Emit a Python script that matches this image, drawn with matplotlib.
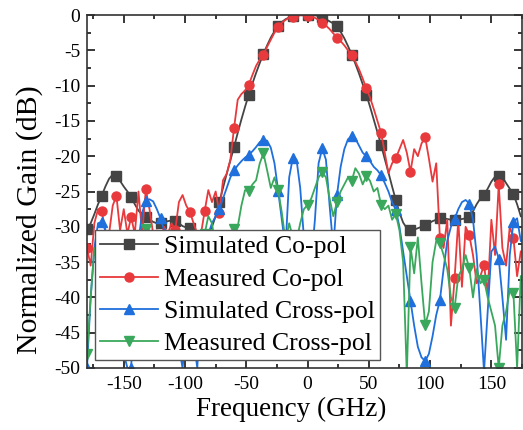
import numpy as np
import matplotlib
matplotlib.use("Agg")
import matplotlib.pyplot as plt
from matplotlib.ticker import MultipleLocator

plt.rcParams['font.family'] = ['Liberation Serif', 'DejaVu Serif']
plt.rcParams['axes.unicode_minus'] = False

# angle grid (x values)
angles = list(range(-180, 175, 3))

sim_co = [
    -30.3, -29.5, -28.2, -26.8, -25.6, -24.3, -23.2, -22.6, -22.8, -23.5,
    -24.3, -25.0, -25.8, -26.8, -27.7, -28.3, -28.6, -29.0, -29.3, -29.5,
    -29.5, -29.4, -29.2, -29.1, -29.2, -29.5, -29.9, -30.1, -30.2, -30.6,
    -31.2, -31.6, -31.3, -31.0, -30.0, -28.5, -26.5, -24.5, -22.5, -20.6,
    -18.7, -16.7, -14.8, -13.0, -11.3, -9.7, -8.2, -6.8, -5.5, -4.3,
    -3.2, -2.3, -1.6, -1.0, -0.6, -0.35, -0.2, -0.1, -0.05, 0.0,
    0.0, 0.0, -0.05, -0.15, -0.3, -0.6, -0.9, -1.2, -1.6, -2.4,
    -3.3, -4.4, -5.6, -6.9, -8.3, -9.8, -11.3, -13.0, -14.8, -16.6,
    -18.4, -20.4, -22.3, -24.3, -26.2, -28.0, -29.4, -30.2, -30.4, -30.4,
    -30.2, -30.0, -29.8, -29.5, -29.2, -29.0, -28.8, -28.8, -28.9, -29.0,
    -29.0, -29.0, -28.9, -28.8, -28.6, -27.8, -26.8, -26.0, -25.5, -24.6,
    -23.6, -22.9, -22.8, -23.0, -23.8, -24.6, -25.4, -26.8, -28.5,
]

meas_co = [
    -33.0, -35.5, -29.5, -27.5, -27.8, -30.5, -31.0, -27.0, -25.6, -30.5,
    -27.5, -31.0, -28.6, -31.0, -25.0, -31.0, -24.7, -27.5, -31.0, -30.5,
    -31.5, -30.0, -31.0, -29.5, -30.5, -26.5, -25.5, -27.0, -27.9, -29.5,
    -31.0, -31.0, -27.8, -24.8, -26.5, -25.0, -28.0, -23.4, -22.5, -20.5,
    -16.0, -12.0, -11.2, -10.7, -9.9, -8.5, -7.2, -6.3, -5.6, -4.5,
    -3.5, -2.5, -1.7, -1.1, -0.7, -0.4, -0.3, -0.1, 0.0, -0.1,
    -0.1, -0.2, -0.4, -0.7, -1.1, -1.5, -2.0, -2.6, -3.2, -3.7,
    -4.3, -5.0, -5.7, -6.6, -7.7, -9.0, -10.4, -11.7, -13.3, -15.0,
    -16.7, -19.5, -22.4, -21.0, -20.3, -19.0, -17.7, -19.5, -22.2, -19.0,
    -20.0, -18.2, -17.3, -20.3, -23.6, -21.0, -31.6, -33.0, -29.0, -44.0,
    -37.3, -29.0, -38.5, -30.0, -31.2, -34.0, -38.0, -37.0, -35.4, -39.5,
    -29.0, -34.0, -24.0, -33.0, -35.5, -30.0, -31.6, -37.0, -33.5,
]

sim_cross = [
    -50.0, -40.0, -33.0, -29.5, -29.3, -30.5, -33.0, -37.0, -41.0, -45.0,
    -48.0, -50.0, -50.0, -40.0, -32.0, -28.0, -26.4, -26.1, -26.4, -27.5,
    -28.8, -30.5, -33.0, -37.0, -42.0, -47.0, -50.0, -44.0, -42.0, -46.0,
    -50.0, -40.0, -34.0, -31.0, -29.5, -28.5, -27.5, -26.0, -24.5, -23.0,
    -22.0, -21.3, -20.7, -20.2, -19.8, -19.3, -18.7, -18.0, -17.7, -17.8,
    -18.8, -21.0, -24.9, -29.0, -33.0, -23.0, -20.2, -20.5, -24.5, -31.5,
    -40.0, -35.0, -29.0, -21.0, -18.9, -20.5, -27.0, -33.0, -25.5, -21.5,
    -19.0, -17.6, -17.2, -17.5, -18.5, -19.5, -20.0, -20.7, -21.5, -22.0,
    -22.7, -23.8, -25.0, -26.5, -27.6, -30.0, -33.5, -37.0, -40.5, -44.0,
    -47.0, -48.5, -49.0, -48.0, -45.5, -42.5, -40.4, -36.0, -32.0, -30.0,
    -28.9, -27.5, -26.5, -26.2, -26.7, -29.0, -34.0, -42.0, -50.5, -42.0,
    -33.5, -32.8, -34.5, -40.0, -46.0, -34.0, -29.3, -28.8, -32.0,
]

meas_cross = [
    -48.0, -40.0, -33.0, -36.0, -38.0, -42.0, -36.0, -40.0, -38.0, -42.0,
    -37.0, -40.0, -35.0, -33.0, -31.0, -30.8, -30.3, -33.0, -37.0, -35.0,
    -38.0, -34.0, -40.0, -36.0, -42.0, -38.0, -44.0, -40.0, -36.0, -41.0,
    -35.0, -33.0, -31.0, -28.5, -29.5, -33.0, -32.0, -35.0, -33.0, -31.5,
    -30.3, -30.0, -27.0, -24.8, -24.9, -24.0, -23.4, -21.0, -19.6, -22.0,
    -24.5, -23.0, -24.8, -28.0, -32.0, -29.5, -31.5, -32.0, -29.5, -27.5,
    -26.9, -26.0, -24.5, -23.0, -22.3, -23.0, -26.0, -28.5, -26.5, -25.0,
    -24.0, -23.0, -23.5, -21.7, -22.5, -24.0, -22.8, -23.5, -25.0, -24.5,
    -26.9, -27.5, -27.0, -29.0, -28.2, -30.5, -35.0, -51.0, -32.8, -36.6,
    -31.5, -38.0, -43.9, -42.0, -35.0, -32.0, -32.3, -34.0, -36.0, -40.0,
    -41.5, -37.0, -36.0, -34.0, -35.9, -40.0, -36.0, -38.0, -37.5, -40.0,
    -42.0, -44.0, -50.0, -44.0, -42.0, -39.0, -39.4, -50.0, -37.0,
]

labels = ['Simulated Co-pol', 'Measured Co-pol', 'Simulated Cross-pol', 'Measured Cross-pol']
colors = ['#444444', '#e8393c', '#1f6fdc', '#3aa85c']
markers = ['s', 'o', '^', 'v']
series = [sim_co, meas_co, sim_cross, meas_cross]

fig = plt.figure(figsize=(5.23, 4.30), dpi=100)
ax = fig.add_axes([87/523, 1-368/430, 435/523, 353/430])

for y, lab, c, m in zip(series, labels, colors, markers):
    ax.plot(angles, y, color=c, marker=m, markevery=4, markersize=6.5,
            linewidth=1.3, label=lab)

ax.set_xlim(-180, 175)
ax.set_ylim(-50, 0)
ax.xaxis.set_major_locator(MultipleLocator(50))
ax.xaxis.set_minor_locator(MultipleLocator(25))
ax.yaxis.set_major_locator(MultipleLocator(5))
ax.yaxis.set_minor_locator(MultipleLocator(2.5))
ax.tick_params(which='both', direction='in', top=True, right=True, labelsize=14, width=1.1)
ax.tick_params(which='major', length=5.5)
ax.tick_params(which='minor', length=3)
ax.tick_params(axis='x', which='major', pad=6)
ax.tick_params(axis='y', which='major', pad=5)
for s in ax.spines.values():
    s.set_linewidth(1.2)
    s.set_color('#333333')

ax.set_xlabel('Frequency (GHz)', fontsize=19.5)
ax.xaxis.set_label_coords(0.47, -0.083)
ax.set_ylabel('Normalized Gain (dB)', fontsize=21.5)
ax.yaxis.set_label_coords(-0.1005, 0.419)

leg = ax.legend(loc='lower left', fontsize=18.5, frameon=True, fancybox=False,
                edgecolor='#555555', framealpha=1, borderaxespad=0.3,
                borderpad=0.2, handlelength=2.25, handletextpad=0.23,
                labelspacing=0.36)
leg.get_frame().set_linewidth(1.0)

fig.savefig('out.png', dpi=100)
